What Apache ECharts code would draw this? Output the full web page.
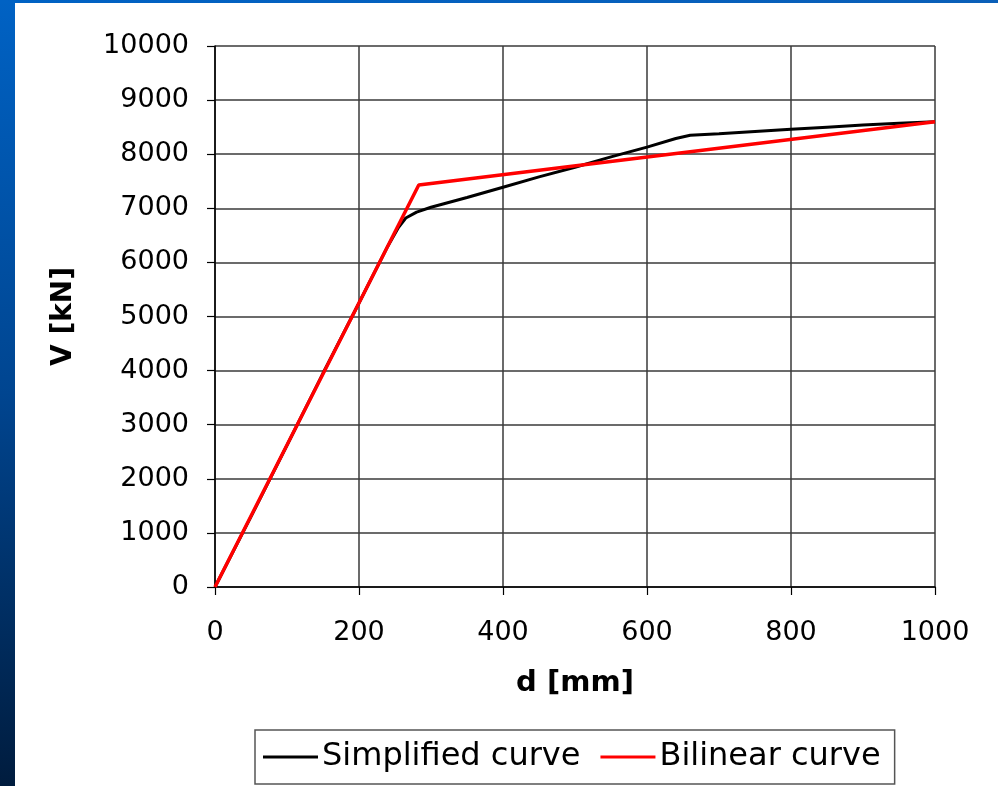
<!DOCTYPE html>
<html>
<head>
<meta charset="utf-8">
<script src="https://cdn.jsdelivr.net/npm/echarts@6/dist/echarts.min.js"></script>
<style>
html,body{margin:0;padding:0;background:#fff;}
#c{width:998px;height:786px;}
</style>
</head>
<body>
<div id="c"></div>
<script>
// Data
const seriesNames = ['Simplified curve', 'Bilinear curve'];
const simplifiedD = [0, 50, 100, 150, 200, 240, 255, 265, 280, 300, 350, 400, 450, 500, 550, 600, 640, 660, 700, 750, 800, 850, 900, 950, 1000];
const simplifiedV = [0, 1300, 2620, 3950, 5250, 6300, 6650, 6820, 6930, 7020, 7200, 7390, 7580, 7760, 7950, 8130, 8290, 8350, 8380, 8420, 8460, 8500, 8540, 8570, 8600];
const bilinearD = [0, 283, 1000];
const bilinearV = [0, 7430, 8600];
const xTicks = [0, 200, 400, 600, 800, 1000];
const yTicks = [0, 1000, 2000, 3000, 4000, 5000, 6000, 7000, 8000, 9000, 10000];
const xTitle = 'd [mm]';
const yTitle = 'V [kN]';

const toPairs = (xs, ys) => xs.map((x, i) => [x, ys[i]]);

const chart = echarts.init(document.getElementById('c'), null, {renderer: 'canvas'});
const font = 'DejaVu Sans';
chart.setOption({
  backgroundColor: '#ffffff',
  animation: false,
  graphic: [
    {type: 'rect', left: 0, top: 0, shape: {width: 15, height: 786}, z: 100,
     style: {fill: new echarts.graphic.LinearGradient(0, 0, 0, 1, [
       {offset: 0, color: '#0062c4'}, {offset: 0.5, color: '#004590'}, {offset: 1, color: '#001c3e'}])}},
    {type: 'rect', left: 0, top: 0, shape: {width: 998, height: 3}, z: 100,
     style: {fill: new echarts.graphic.LinearGradient(0, 0, 1, 0, [
       {offset: 0, color: '#0062c4'}, {offset: 1, color: '#0a5fb8'}])}}
  ],
  grid: {left: 215, right: 63, top: 46, bottom: 199, containLabel: false},
  xAxis: {
    type: 'value', min: 0, max: 1000, interval: 200,
    name: xTitle, nameLocation: 'middle', nameGap: 82,
    nameTextStyle: {fontFamily: font, fontWeight: 'bold', fontSize: 29, color: '#000'},
    axisLine: {show: true, lineStyle: {color: '#000', width: 1.5}},
    axisTick: {show: true, inside: false, length: 8, lineStyle: {color: '#000', width: 1.2}},
    axisLabel: {fontFamily: font, fontSize: 27, color: '#000', margin: 32,
      formatter: v => xTicks.includes(v) ? String(v) : ''},
    splitLine: {show: true, lineStyle: {color: '#3a3a3a', width: 1.5}}
  },
  yAxis: {
    type: 'value', min: 0, max: 10000, interval: 1000,
    name: yTitle, nameLocation: 'middle', nameGap: 137,
    nameTextStyle: {fontFamily: font, fontWeight: 'bold', fontSize: 28, color: '#000'},
    axisLine: {show: true, lineStyle: {color: '#000', width: 1.5}},
    axisTick: {show: true, inside: false, length: 8, lineStyle: {color: '#000', width: 1.2}},
    axisLabel: {fontFamily: font, fontSize: 27, color: '#000', margin: 26,
      formatter: v => yTicks.includes(v) ? String(v) : ''},
    splitLine: {show: true, lineStyle: {color: '#3a3a3a', width: 1.5}}
  },
  legend: {
    left: 255, top: 730, orient: 'horizontal',
    data: seriesNames,
    icon: 'rect', itemWidth: 55, itemHeight: 3, itemGap: 20,
    padding: [11, 14, 11, 8],
    borderColor: '#555', borderWidth: 1.5, backgroundColor: '#fff',
    textStyle: {fontFamily: font, fontSize: 32, color: '#000', padding: [0, 0, 0, -1]}
  },
  series: [
    {name: seriesNames[0], type: 'line', data: toPairs(simplifiedD, simplifiedV),
     showSymbol: false, symbol: 'none', color: '#000', lineStyle: {color: '#000', width: 3}, z: 2},
    {name: seriesNames[1], type: 'line', data: toPairs(bilinearD, bilinearV),
     showSymbol: false, symbol: 'none', color: '#ff0000', lineStyle: {color: '#ff0000', width: 3.5}, z: 3}
  ]
});
</script>
</body>
</html>
